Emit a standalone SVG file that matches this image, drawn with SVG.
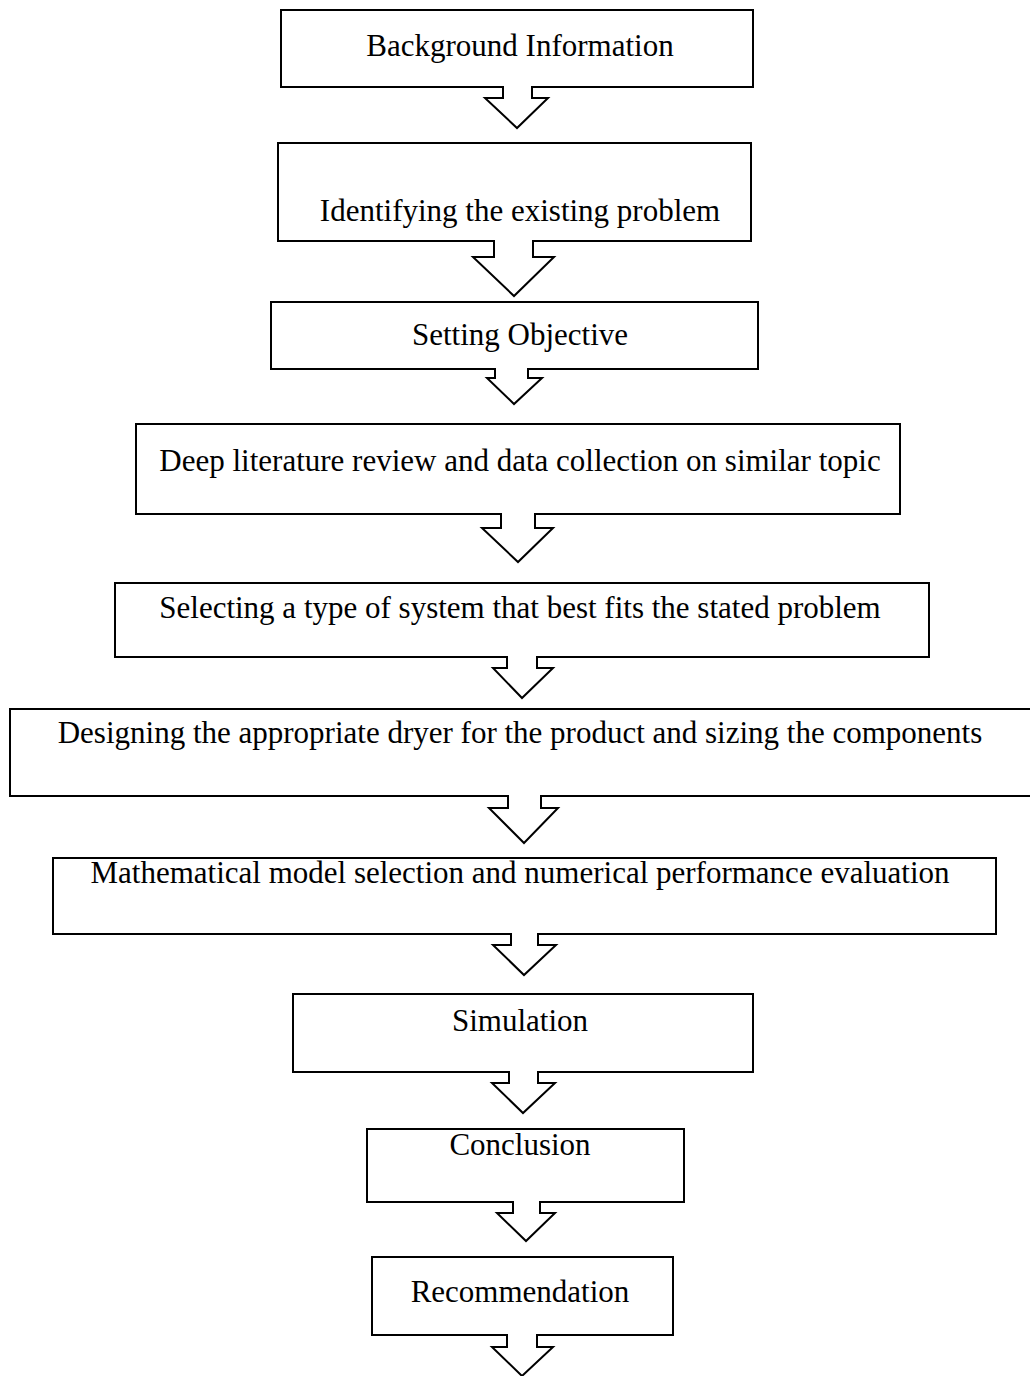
<svg xmlns="http://www.w3.org/2000/svg" width="1030" height="1376" viewBox="0 0 1030 1376">
<style>
.box{fill:#fff;stroke:#000;stroke-width:2}
.arr{fill:#fff;stroke:#000;stroke-width:2;stroke-linejoin:miter}
.t{font-family:"Liberation Serif","Times New Roman",serif;font-size:31px;fill:#000;text-anchor:middle}
</style>
<rect width="1030" height="1376" fill="#fff"/>
<g id="n1"><rect class="box" x="281" y="10" width="472" height="77"/><text class="t" x="520" y="56">Background Information</text></g>
<g id="n2"><rect class="box" x="278" y="143" width="473" height="98"/><text class="t" x="520" y="221">Identifying the existing problem</text></g>
<g id="n3"><rect class="box" x="271" y="302" width="487" height="67"/><text class="t" x="520" y="345">Setting Objective</text></g>
<g id="n4"><rect class="box" x="136" y="424" width="764" height="90"/><text class="t" x="520" y="471">Deep literature review and data collection on similar topic</text></g>
<g id="n5"><rect class="box" x="115" y="583" width="814" height="74"/><text class="t" x="520" y="618">Selecting a type of system that best fits the stated problem</text></g>
<g id="n6"><rect class="box" x="10" y="709" width="1030" height="87"/><text class="t" x="520" y="743">Designing the appropriate dryer for the product and sizing the components</text></g>
<g id="n7"><rect class="box" x="53" y="858" width="943" height="76"/><text class="t" x="520" y="883">Mathematical model selection and numerical performance evaluation</text></g>
<g id="n8"><rect class="box" x="293" y="994" width="460" height="78"/><text class="t" x="520" y="1031">Simulation</text></g>
<g id="n9"><rect class="box" x="367" y="1129" width="317" height="73"/><text class="t" x="520" y="1155">Conclusion</text></g>
<g id="n10"><rect class="box" x="372" y="1257" width="301" height="78"/><text class="t" x="520" y="1302">Recommendation</text></g>
<g id="connectors">
<path class="arr" d="M503,86 V98 H485 L517,128 L548,98 H532 V86"/>
<path class="arr" d="M494,240 V257 H473 L514,296 L554,257 H533 V240"/>
<path class="arr" d="M495,368 V378 H487 L514,404 L542,378 H528 V368"/>
<path class="arr" d="M501,513 V528 H482 L518,562 L553,528 H535 V513"/>
<path class="arr" d="M507,656 V668 H493 L522,698 L553,668 H537 V656"/>
<path class="arr" d="M508,795 V808 H489 L524,843 L558,808 H541 V795"/>
<path class="arr" d="M511,933 V945 H493 L524,975 L556,945 H538 V933"/>
<path class="arr" d="M509,1071 V1083 H492 L523,1113 L555,1083 H538 V1071"/>
<path class="arr" d="M513,1201 V1213 H497 L526,1241 L555,1213 H540 V1201"/>
<path class="arr" d="M507,1334 V1347 H492 L522,1376 L553,1347 H537 V1334"/>
</g>
</svg>
